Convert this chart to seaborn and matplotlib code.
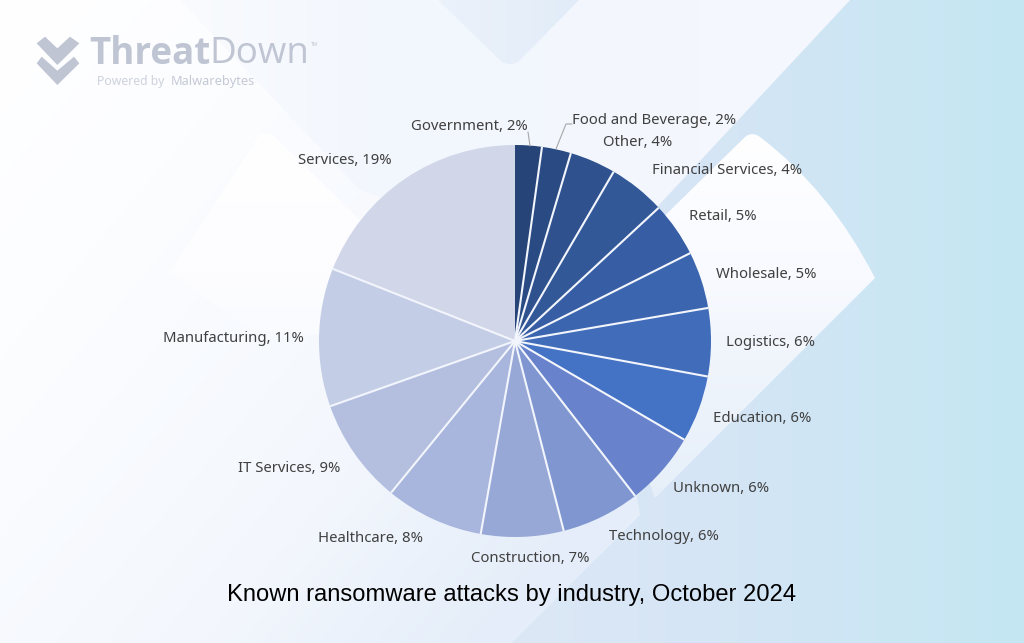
import numpy as np
import matplotlib
matplotlib.use("Agg")
import matplotlib.pyplot as plt
from matplotlib.colors import to_rgb
from matplotlib.path import Path
from matplotlib.patches import PathPatch, Polygon
import seaborn as sns

categories = ["Government", "Food and Beverage", "Other", "Financial Services", "Retail",
              "Wholesale", "Logistics", "Education", "Unknown", "Technology",
              "Construction", "Healthcare", "IT Services", "Manufacturing", "Services"]
values = [2.2, 2.4, 3.8, 4.7, 4.5, 4.7, 5.6, 5.5, 6.1, 6.5, 6.8, 8.1, 8.7, 11.4, 19.0]
shown_percent = [2, 2, 4, 4, 5, 5, 6, 6, 6, 6, 7, 8, 9, 11, 19]
title_text = "Known ransomware attacks by industry, October 2024"

label_x = [469, 654, 638, 727, 723, 766, 770, 762, 721, 664, 530, 370, 289, 233, 345]
label_y = [126, 119, 142, 170, 216, 273, 342, 417, 487, 536, 557, 538, 467, 337, 160]

W, H = 1024, 643
sns.set_theme(style="white")
plt.rcParams["font.family"] = ["Noto Sans", "DejaVu Sans"]

dark = sns.blend_palette(["#264478", "#4472C4"], 8)
light = sns.blend_palette(["#4472C4", "#6883CC", "#7F96D0", "#97A8D7", "#A8B5DC",
                           "#B4BFE0", "#C3CDE6", "#D1D6E9"], 8)
colors = list(dark) + list(light[1:])

fig = plt.figure(figsize=(W / 100, H / 100), dpi=100)
bg = fig.add_axes([0, 0, 1, 1], zorder=0)
bg.set_xlim(0, W); bg.set_ylim(H, 0); bg.axis("off")

yy, xx = np.mgrid[0:H, 0:W]


def layer(verts, codes, stops, direction=(1.0, 0.0), z=1):
    t = xx * direction[0] + yy * direction[1]
    pos = [s[0] for s in stops]
    rgb = np.array([to_rgb(s[1]) for s in stops])
    img = np.dstack([np.interp(t, pos, rgb[:, i]) for i in range(3)])
    im = bg.imshow(img, extent=(0, W, H, 0), zorder=z, aspect="auto", interpolation="bilinear")
    if verts is not None:
        patch = PathPatch(Path(verts, codes), transform=bg.transData, fc="none", ec="none")
        bg.add_patch(patch)
        im.set_clip_path(patch)


L, M, C = Path.LINETO, Path.MOVETO, Path.CURVE3
# base: blue side
layer(None, None, [(0, "#ffffff"), (500, "#dde8f6"), (720, "#d5e5f5"), (860, "#cde6f4"), (1024, "#c3e6f2")], z=1)
# pale region
layer([(0, 0), (850, 0), (600, 268), (640, 515), (505, 650), (0, 650), (0, 0)],
      [M, L, L, L, L, L, L],
      [(0, "#ffffff"), (300, "#fcfdff"), (742, "#f3f7fd"), (1029, "#e4edf9"), (1100, "#e6eff9")],
      direction=(1.0, 0.84), z=2)
# upper band
layer([(180, 0), (360, 190), (600, 268), (850, 0), (180, 0)], [M, L, L, L, L],
      [(180, "#f9fbfe"), (400, "#f2f6fd"), (850, "#f5f8fd")], z=3)
# top diamond
layer([(438, 0), (502, 62), (510, 66), (518, 62), (579, 0), (438, 0)], [M, L, C, L, L, L],
      [(430, "#edf2fb"), (580, "#e1ecf8")], z=4)
# right kite
layer([(745, 137), (752, 131), (760, 137), (830, 190), (875, 278), (655, 498), (620, 400), (640, 240), (745, 137)],
      [M, C, L, C, L, L, L, L, L],
      [(130, "#ffffff"), (280, "#f8faff"), (360, "#f0f5fc"), (500, "#e6eff9")], direction=(0, 1), z=5)
# left kite
layer([(259, 135), (266, 131), (273, 135), (362, 222), (400, 340), (250, 330), (170, 272), (259, 135)],
      [M, C, L, L, L, L, L, L],
      [(130, "#ffffff"), (272, "#fdfdff"), (340, "#f9fbfe")], direction=(0, 1), z=6)

# pie
cx, cy, r = 515, 341, 196
ax = fig.add_axes([(cx - r) / W, 1 - (cy + r) / H, 2 * r / W, 2 * r / H], zorder=1)
ax.patch.set_alpha(0)
ax.pie(values, colors=colors, startangle=90, counterclock=False, radius=1.0,
       wedgeprops=dict(edgecolor="none", linewidth=0))
edges = np.cumsum(values)[:-1] / np.sum(values) * 2 * np.pi
for a in edges:
    ax.plot([0, np.sin(a)], [0, np.cos(a)], color="#f2f5fc", lw=1.5, solid_capstyle="butt")
ax.set_xlim(-1, 1); ax.set_ylim(-1, 1)
ax.set_aspect("equal")

fg = fig.add_axes([0, 0, 1, 1], zorder=2)
fg.set_xlim(0, W); fg.set_ylim(H, 0); fg.axis("off"); fg.patch.set_alpha(0)

for name, pct, x, y in zip(categories, shown_percent, label_x, label_y):
    fg.text(x, y + 1, f"{name}, {pct}%", ha="center", va="center", fontsize=10.7, color="#404040")

fg.plot([528, 530], [132, 146], color="#a6a6a6", lw=0.8)
fg.plot([572, 566, 556], [124, 124, 149], color="#a6a6a6", lw=0.8)

fg.text(512, 595, title_text, ha="center", va="center", fontsize=17.1,
        family="Liberation Sans", color="#000000")

# logo
logo = "#bfc5d2"
fg.add_patch(Polygon(np.array([(110, 130), (135, 110), (172, 145), (210, 110), (238, 130), (172, 195)]) / 3,
                     fc=logo, ec="none"))
fg.add_patch(Polygon(np.array([(110, 190), (125, 170), (172, 212), (222, 170), (238, 190), (172, 255)]) / 3,
                     fc=logo, ec="none"))
t1 = fg.text(89, 54, "Threat", ha="left", va="center", fontsize=26.5, color=logo,
             family="Open Sans", fontweight="bold")
fig.canvas.draw()
ext = t1.get_window_extent()
fg.text(ext.x1 - 1, 54, "Down", ha="left", va="center", fontsize=26.5, color=logo,
        family="Open Sans", fontweight="normal")
fg.text(311, 45, "TM", ha="left", va="center", fontsize=3.5, color=logo)
fg.text(97, 81.5, "Powered by", ha="left", va="center", fontsize=8.8, color="#cdd2dd")
fg.text(171, 81.5, "Malwarebytes", ha="left", va="center", fontsize=9.2, color="#c4c9d6", fontweight="semibold")

fig.savefig("out.png", dpi=100)
